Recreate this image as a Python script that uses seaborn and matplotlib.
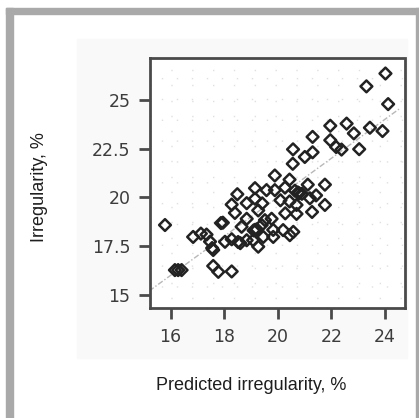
import numpy as np
import pandas as pd
import matplotlib
matplotlib.use("Agg")
import matplotlib.pyplot as plt
import seaborn as sns
from matplotlib.patches import Rectangle
from matplotlib.ticker import MultipleLocator

# ---- data ----
predicted = [
    24.02, 23.31, 24.12, 22.57, 23.44, 23.91, 21.96, 22.84, 21.30, 21.96,
    22.18, 22.38, 23.04, 21.30, 21.01, 20.57, 20.56,
    19.89, 20.44, 21.12, 21.76, 19.15, 19.58, 19.89, 20.27, 20.64,
    20.80, 20.75, 20.90, 18.49, 18.28, 18.40, 18.84, 19.15, 19.42,
    20.10, 20.44, 21.20, 21.43, 21.76, 20.70, 21.28, 20.28, 20.70,
    19.27, 19.77, 18.84, 19.40, 19.52, 19.83, 19.15, 19.22, 19.10,
    20.20, 20.58, 20.45, 18.65, 17.88, 17.95, 15.79, 16.84, 17.13,
    17.34, 17.47, 17.59, 17.55, 18.03, 18.28, 18.52, 18.60, 18.84,
    19.08, 19.46, 19.83, 19.27, 16.16, 16.28, 16.41, 17.59, 17.78, 18.28,
]
observed = [
    26.35, 25.69, 24.78, 23.78, 23.57, 23.40, 23.67, 23.28, 23.10, 22.93,
    22.58, 22.45, 22.47, 22.31, 22.07, 22.46, 21.72,
    21.12, 20.91, 20.65, 20.65, 20.47, 20.37, 20.37, 20.50, 20.34,
    20.21, 20.25, 20.18, 20.16, 19.63, 19.20, 19.70, 19.93, 19.69,
    19.85, 19.79, 19.95, 20.10, 19.61, 19.61, 19.25, 19.18, 19.15,
    19.33, 18.90, 18.90, 18.58, 18.83, 18.33, 18.33, 18.36, 18.30,
    18.32, 18.23, 18.06, 18.49, 18.68, 18.70, 18.58, 17.97, 18.14,
    18.09, 17.73, 17.30, 17.40, 17.72, 17.85, 17.71, 17.65, 17.80,
    17.80, 17.97, 17.97, 17.47, 16.27, 16.27, 16.27, 16.48, 16.18, 16.20,
]
x_ticks = [16, 18, 20, 22, 24]
y_ticks = [15, 17.5, 20, 22.5, 25]
y_ticklabels = ["15", "17.5", "20", "22.5", "25"]
ref_line = [15.2, 24.55]
x_label = "Predicted irregularity, %"
y_label = "Irregularity, %"

df = pd.DataFrame({"pred": predicted, "obs": observed})

W, H = 419, 418
fig = plt.figure(figsize=(W / 100, H / 100), dpi=100)
fig.patch.set_facecolor("white")

def fx(px):
    return px / W

def fy(py):
    return 1 - py / H

# outer gray frame (left, top thick; right thin)
frame_col = "#a9a9a9"
fig.patches.append(Rectangle((fx(6), fy(418)), fx(7), fy(8) - fy(418),
                             transform=fig.transFigure, color=frame_col, zorder=-2))
fig.patches.append(Rectangle((fx(6), fy(14)), fx(413), fy(8) - fy(14),
                             transform=fig.transFigure, color=frame_col, zorder=-2))
fig.patches.append(Rectangle((fx(416), fy(418)), fx(3), fy(8) - fy(418),
                             transform=fig.transFigure, color=frame_col, zorder=-2))
# light plot panel
fig.patches.append(Rectangle((fx(77), fy(358)), fx(330), fy(39) - fy(358),
                             transform=fig.transFigure, color="#f9f9f9", zorder=-2))

ax = fig.add_axes([fx(150), fy(308.3), fx(405 - 150), fy(58.3) - fy(308.3)])
ax.set_zorder(5)
ax.set_facecolor("white")

ax.set_xlim(15.23, 24.75)
ax.set_ylim(14.31, 27.13)

# faint dotted background grid
ax.xaxis.set_minor_locator(MultipleLocator(0.56))
ax.yaxis.set_minor_locator(MultipleLocator(0.78))
ax.grid(which="minor", color="#e0e0e0", linestyle=(0, (1, 14)), linewidth=1)
ax.set_axisbelow(True)

# reference line
ax.plot(ref_line, ref_line, color="#b8b8b8", linewidth=1,
        linestyle=(0, (4, 1.5, 1, 1.5)), zorder=1)

sns.scatterplot(data=df, x="pred", y="obs", ax=ax, marker="D", s=36,
                facecolor="none", edgecolor="#222222", linewidth=1.8,
                joinstyle="round", zorder=3)

ax.set_xticks(x_ticks)
ax.set_xticklabels([str(t) for t in x_ticks])
ax.set_yticks(y_ticks)
ax.set_yticklabels(y_ticklabels)
ax.tick_params(which="minor", length=0)
ax.tick_params(which="major", direction="out", length=8, width=2,
               color="#4a4a4a", labelcolor="#3c3c3c", labelsize=12.5, pad=6)
ax.set_xlabel("")
ax.set_ylabel("")

for side in ["left", "bottom"]:
    ax.spines[side].set_color("#4a4a4a")
    ax.spines[side].set_linewidth(2)
for side in ["top", "right"]:
    ax.spines[side].set_color("#4a4a4a")
    ax.spines[side].set_linewidth(2)
    ax.spines[side].set_linestyle((0, (1, 1)))

fig.text(fx(251), fy(385), x_label, ha="center", va="center",
         fontsize=13, family="Liberation Sans", color="#1e1e1e")
fig.text(fx(39), fy(187), y_label, ha="center", va="center", rotation=90,
         fontsize=13, family="Liberation Sans", color="#1e1e1e")

fig.savefig("out.png", dpi=100)
